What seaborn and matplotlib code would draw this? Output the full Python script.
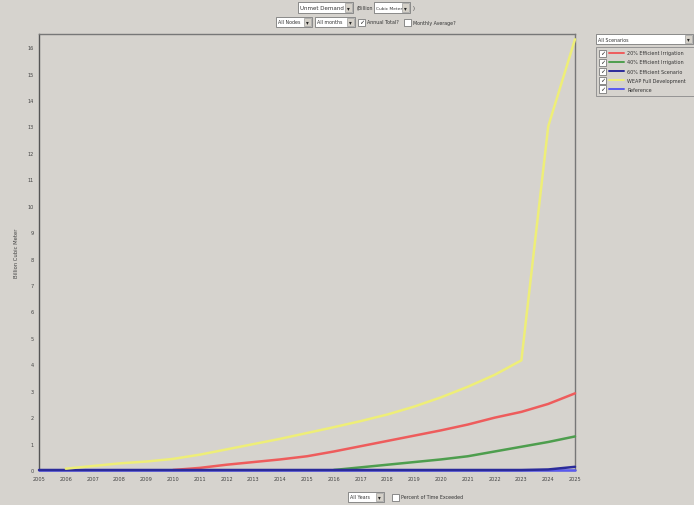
import numpy as np
import pandas as pd
import matplotlib
matplotlib.use("Agg")
import matplotlib.pyplot as plt
from matplotlib.patches import Rectangle
import seaborn as sns

# ---- data (Billion Cubic Meter) ----
years_yellow = list(range(2006, 2026))
weap_full = [0.05, 0.15, 0.25, 0.32, 0.42, 0.58, 0.78, 0.98, 1.18, 1.40,
             1.62, 1.85, 2.10, 2.40, 2.75, 3.15, 3.60, 4.15, 13.0, 16.3]
years_red = list(range(2010, 2026))
eff20 = [0.0, 0.08, 0.20, 0.30, 0.40, 0.52, 0.70, 0.90, 1.10, 1.30,
         1.50, 1.72, 1.98, 2.20, 2.50, 2.90]
years_green = list(range(2016, 2026))
eff40 = [0.0, 0.10, 0.20, 0.30, 0.40, 0.52, 0.70, 0.88, 1.06, 1.27]
years_all = list(range(2005, 2026))
eff60 = [0.0] * 19 + [0.02, 0.12]
reference = [0.0] * 21

scenarios = ["20% Efficient Irrigation", "40% Efficient Irrigation",
             "60% Efficient Scenario", "WEAP Full Development", "Reference"]
colors = ["#ee5c5c", "#4e9e4e", "#2b2b9a", "#eeee78", "#5a5af0"]
x_ticks = list(range(2005, 2026))
y_ticks = list(range(0, 17))

frames = [
    pd.DataFrame({"Year": years_red, "Value": eff20, "Scenario": scenarios[0]}),
    pd.DataFrame({"Year": years_green, "Value": eff40, "Scenario": scenarios[1]}),
    pd.DataFrame({"Year": years_all, "Value": reference, "Scenario": scenarios[4]}),
    pd.DataFrame({"Year": years_all, "Value": eff60, "Scenario": scenarios[2]}),
    pd.DataFrame({"Year": years_yellow, "Value": weap_full, "Scenario": scenarios[3]}),
]
df = pd.concat(frames, ignore_index=True)
draw_order = [scenarios[0], scenarios[1], scenarios[4], scenarios[2], scenarios[3]]

BG = "#d6d3ce"
sns.set_style("white")
plt.rcParams["font.family"] = ["DejaVu Sans"]

fig = plt.figure(figsize=(6.94, 5.06), dpi=100, facecolor=BG)
W, H = 694.0, 506.0
ax = fig.add_axes([39 / W, 1 - 471 / H, (575 - 39) / W, (471 - 35) / H])
ax.set_facecolor(BG)

palette = dict(zip(scenarios, colors))
sns.lineplot(data=df, x="Year", y="Value", hue="Scenario", palette=palette,
             hue_order=draw_order, linewidth=1.8, ax=ax, legend=False,
             estimator=None, sort=True)
for ln in ax.lines:
    ln.set_zorder(5)
    ln.set_clip_on(False)

ax.set_xlim(2005, 2025)
ax.set_ylim(0, 16.5)
ax.set_xticks(x_ticks)
ax.set_xticklabels([str(v) for v in x_ticks], fontsize=3.6, color="#444444")
ax.set_yticks(y_ticks)
ax.set_yticklabels([str(v) for v in y_ticks], fontsize=3.6, color="#444444")
ax.tick_params(length=0, pad=4)
ax.set_xlabel("")
ax.set_ylabel("Billion Cubic Meter", fontsize=3.8, color="#444444", labelpad=6)
for s in ax.spines.values():
    s.set_color("#777777")
    s.set_linewidth(1.0)
ax.spines["left"].set_color("#555555")
ax.spines["bottom"].set_color("#555555")


def px_rect(x0, y0, x1, y1, fc="white", ec="#7a7a7a", lw=0.6):
    fig.patches.append(Rectangle((x0 / W, 1 - y1 / H), (x1 - x0) / W, (y1 - y0) / H,
                                 transform=fig.transFigure, facecolor=fc,
                                 edgecolor=ec, linewidth=lw, figure=fig))


def px_text(x, y, s, size=3.6, ha="left", color="#333333"):
    fig.text(x / W, 1 - y / H, s, fontsize=size, ha=ha, va="center", color=color)


def combo(x0, y0, x1, y1, label, size=3.6):
    px_rect(x0, y0, x1, y1)
    px_rect(x1 - 8, y0 + 1, x1 - 1, y1 - 1, fc="#d4d0c8", ec="#888888", lw=0.4)
    px_text(x1 - 4.5, (y0 + y1) / 2, "\u25BE", size=4, ha="center", color="#222222")
    px_text(x0 + 2, (y0 + y1) / 2, label, size=size)


def checkbox(x, y, checked):
    px_rect(x, y - 3.5, x + 7, y + 3.5)
    if checked:
        px_text(x + 3.5, y, "\u2713", size=4.5, ha="center", color="#222222")


# top widgets
combo(298, 3, 353, 14, "Unmet Demand", size=4)
px_text(357, 8.5, "(Billion", size=3.4)
combo(374, 3, 410, 14, "Cubic Meter", size=3.2)
px_text(413, 8.5, ")")
combo(276, 18, 312, 28, "All Nodes", size=3.4)
combo(315, 18, 355, 28, "All months", size=3.4)
checkbox(358, 23, True)
px_text(367, 23, "Annual Total?", size=3.4)
checkbox(404, 23, False)
px_text(413, 23, "Monthly Average?", size=3.4)

# bottom widgets
combo(348, 493, 384, 503, "All Years", size=3.4)
checkbox(392, 498, False)
px_text(401, 498, "Percent of Time Exceeded", size=3.4)

# right panel: scenario selector and legend list
combo(596, 35, 693, 45, "All Scenarios", size=3.4)
px_rect(596, 48, 700, 97, fc=BG, ec="#8a8a8a", lw=0.6)
ys = [54, 63, 72, 81, 90]
for yy, name, col in zip(ys, scenarios, colors):
    checkbox(599, yy, True)
    fig.lines.append(plt.Line2D([609 / W, 624 / W], [1 - yy / H, 1 - yy / H],
                                transform=fig.transFigure, color=col, linewidth=1.4))
    px_text(627, yy, name, size=3.5)

fig.savefig("out.png", dpi=100, facecolor=BG)
